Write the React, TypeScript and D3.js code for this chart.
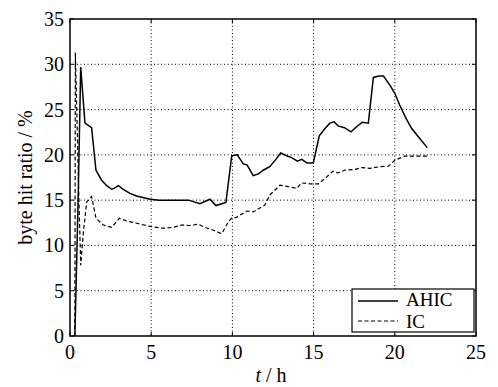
import React from "react";
import * as d3 from "d3";

const ahicT = [0.3, 0.5, 0.66, 0.92, 1.33, 1.6, 1.95, 2.26, 2.57, 2.71, 2.98, 3.28, 3.69, 4.1, 4.93, 5.5, 7.3, 8.0, 8.62, 8.99, 9.6, 9.96, 10.3, 10.67, 10.9, 11.28, 11.6, 11.9, 12.3, 12.68, 12.97, 13.34, 13.65, 14.0, 14.27, 14.6, 14.98, 15.35, 15.7, 16.0, 16.26, 16.5, 16.9, 17.3, 17.65, 18.0, 18.37, 18.68, 19.03, 19.3, 19.7, 20.0, 20.3, 20.7, 21.04, 21.45, 22.0];
const ahicV = [0, 15, 29.7, 23.5, 23.0, 18.3, 17.2, 16.6, 16.2, 16.3, 16.6, 16.2, 15.75, 15.45, 15.1, 15.0, 15.0, 14.6, 15.1, 14.4, 14.75, 19.9, 20.0, 19.0, 18.9, 17.7, 17.9, 18.3, 18.7, 19.5, 20.2, 19.9, 19.7, 19.3, 19.5, 19.1, 19.1, 22.1, 22.9, 23.5, 23.65, 23.2, 23.0, 22.55, 23.1, 23.6, 23.5, 28.55, 28.7, 28.7, 27.7, 26.8, 25.5, 24.0, 22.9, 22.0, 20.8];

const icT = [0.3, 0.33, 0.55, 0.66, 0.82, 1.03, 1.33, 1.6, 2.05, 2.57, 3.04, 3.49, 4.1, 4.93, 5.74, 6.36, 6.87, 7.39, 7.9, 8.3, 8.8, 9.34, 9.75, 9.96, 10.26, 10.88, 11.28, 12.0, 12.3, 12.93, 13.44, 13.96, 14.27, 14.78, 15.3, 15.7, 16.2, 16.5, 16.9, 17.55, 17.96, 18.47, 19.1, 19.6, 20.0, 20.6, 21.35, 22.0];
const icV = [0, 31.3, 15, 7.8, 11.4, 14.8, 15.4, 13.0, 12.25, 12.0, 13.0, 12.7, 12.45, 12.1, 11.9, 12.0, 12.25, 12.2, 12.35, 12.0, 11.7, 11.3, 12.6, 13.05, 13.1, 13.8, 13.7, 14.45, 15.55, 16.65, 16.5, 16.3, 16.9, 16.8, 16.8, 17.4, 18.2, 18.0, 18.3, 18.4, 18.6, 18.5, 18.7, 18.75, 19.4, 19.85, 19.85, 19.85];

const xTicks = [0, 5, 10, 15, 20, 25];
const yTicks = [0, 5, 10, 15, 20, 25, 30, 35];
const seriesNames = ["AHIC", "IC"];

export default function App() {
  const W = 498, H = 387;
  const L = 70, R = 476, T = 19, B = 336;
  const x = d3.scaleLinear().domain([0, 25]).range([L, R]);
  const y = d3.scaleLinear().domain([0, 35]).range([B, T]);
  const line = d3.line<[number, number]>().x(d => x(d[0])).y(d => y(d[1]));
  const ahic = ahicT.map((t, i) => [t, ahicV[i]] as [number, number]);
  const ic = icT.map((t, i) => [t, icV[i]] as [number, number]);
  const tf: React.CSSProperties = { fontFamily: '"Liberation Serif", "DejaVu Serif", serif', fontSize: 20 };
  const lf: React.CSSProperties = { fontFamily: '"Liberation Serif", "DejaVu Serif", serif', fontSize: 19 };
  return (
    <svg width={W} height={H} style={{ position: "absolute", left: 0, top: 0, background: "#fff" }}>
      <rect x={0} y={0} width={W} height={H} fill="#fff" />
      {xTicks.slice(1, -1).map(t => (
        <line key={"gx" + t} x1={x(t)} x2={x(t)} y1={T} y2={B} stroke="#000" strokeWidth={1} strokeDasharray="1,2.5" />
      ))}
      {yTicks.slice(1, -1).map(t => (
        <line key={"gy" + t} x1={L} x2={R} y1={y(t)} y2={y(t)} stroke="#000" strokeWidth={1} strokeDasharray="1,2.5" />
      ))}
      {xTicks.map(t => (
        <g key={"tx" + t}>
          <line x1={x(t)} x2={x(t)} y1={B} y2={B - 4} stroke="#000" />
          <line x1={x(t)} x2={x(t)} y1={T} y2={T + 4} stroke="#000" />
          <text x={x(t)} y={B + 23} textAnchor="middle" style={tf}>{t}</text>
        </g>
      ))}
      {yTicks.map(t => (
        <g key={"ty" + t}>
          <line x1={L} x2={L + 4} y1={y(t)} y2={y(t)} stroke="#000" />
          <line x1={R} x2={R - 4} y1={y(t)} y2={y(t)} stroke="#000" />
          <text x={L - 6} y={y(t) + 7} textAnchor="end" style={tf}>{t}</text>
        </g>
      ))}
      <path d={line(ahic) || ""} fill="none" stroke="#000" strokeWidth={1.5} />
      <path d={line(ic) || ""} fill="none" stroke="#000" strokeWidth={1.2} strokeDasharray="4,2.5" />
      <rect x={L} y={T} width={R - L} height={B - T} fill="none" stroke="#000" strokeWidth={1.5} />
      <g>
        <rect x={352} y={289} width={122} height={43} fill="#fff" stroke="#000" strokeWidth={1.2} />
        <line x1={358} x2={398} y1={301} y2={301} stroke="#000" strokeWidth={1.5} />
        <line x1={358} x2={398} y1={321} y2={321} stroke="#000" strokeWidth={1.2} strokeDasharray="4,2.5" />
        <text x={406} y={306} style={lf}>{seriesNames[0]}</text>
        <text x={406} y={328} style={lf}>{seriesNames[1]}</text>
      </g>
      <text x={271} y={382} textAnchor="middle" style={tf}>
        <tspan fontStyle="italic">t</tspan> / h
      </text>
      <text transform={`translate(32, ${(T + B) / 2}) rotate(-90)`} textAnchor="middle" style={tf}>byte hit ratio / %</text>
    </svg>
  );
}
